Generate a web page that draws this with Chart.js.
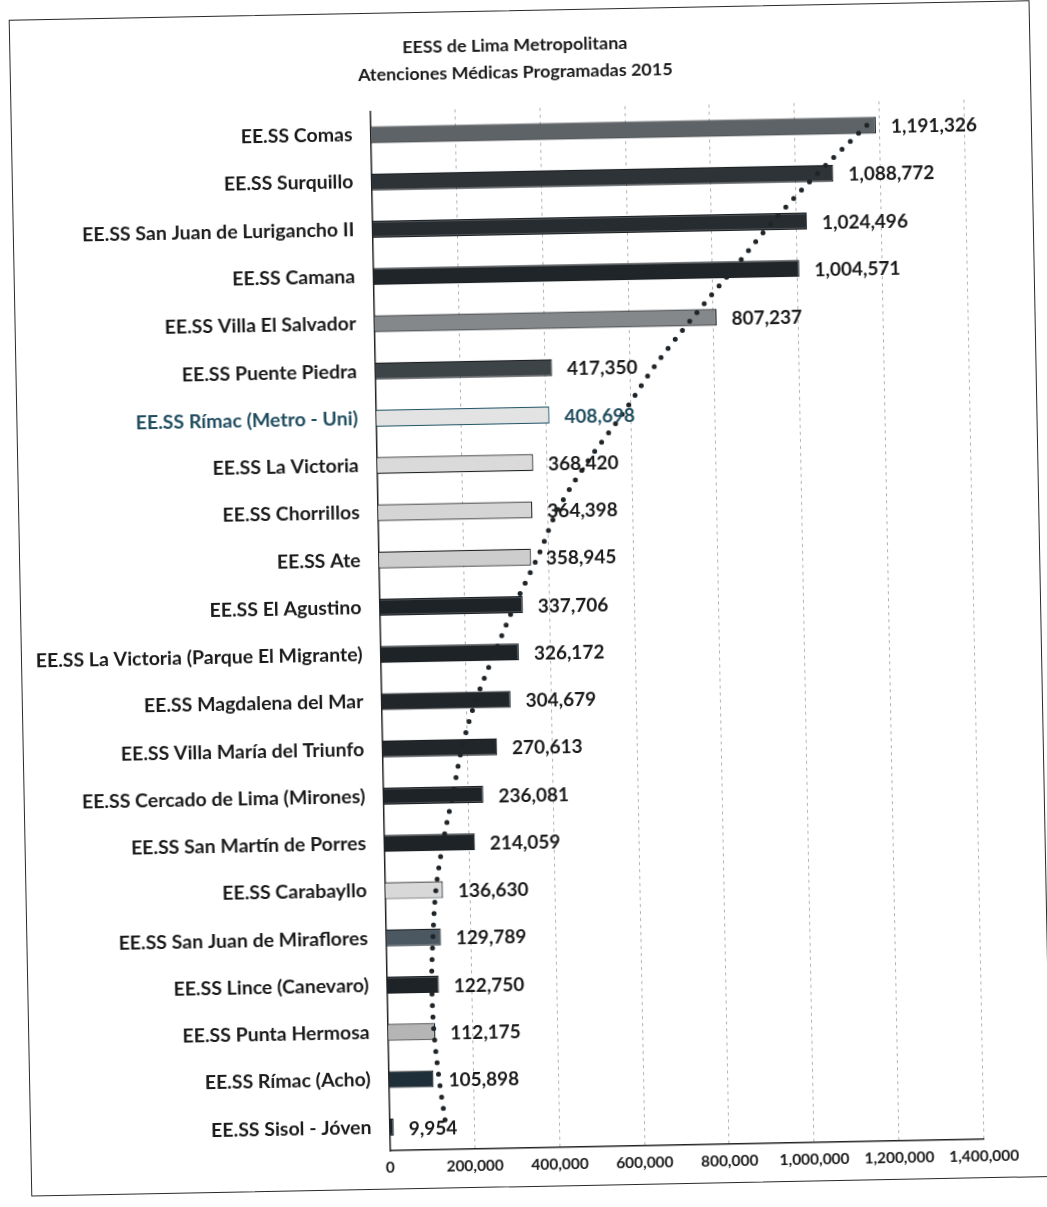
<!DOCTYPE html>
<html>
<head>
<meta charset="utf-8">
<script src="https://cdn.jsdelivr.net/npm/chart.js@4.4.1/dist/chart.umd.min.js"></script>
<style>
  html, body { margin: 0; padding: 0; background: #ffffff; overflow: hidden; }
  #wrap { position: absolute; left: 0; top: 0; width: 1047px; height: 1207px;
          transform: rotate(-1.1deg); transform-origin: 523.5px 603.5px; }
  #frame { position: absolute; left: 20px; top: 10px; width: 1021px; height: 1177px;
           border: 1.6px solid #2a2a2a; box-sizing: border-box; }
  canvas { position: absolute; left: 0; top: 0; }
</style>
</head>
<body>
<div id="wrap">
  <div id="frame"></div>
  <canvas id="chart" width="1047" height="1207"></canvas>
</div>
<script>
// ---------- data ----------
const titleLines = ['EESS de Lima Metropolitana', 'Atenciones Médicas Programadas 2015'];

const categories = [
  'EE.SS Comas',
  'EE.SS Surquillo',
  'EE.SS San Juan de Lurigancho II',
  'EE.SS Camana',
  'EE.SS Villa El Salvador',
  'EE.SS Puente Piedra',
  'EE.SS Rímac (Metro - Uni)',
  'EE.SS La Victoria',
  'EE.SS Chorrillos',
  'EE.SS Ate',
  'EE.SS El Agustino',
  'EE.SS La Victoria (Parque El Migrante)',
  'EE.SS Magdalena del Mar',
  'EE.SS Villa María del Triunfo',
  'EE.SS Cercado de Lima (Mirones)',
  'EE.SS San Martín de Porres',
  'EE.SS Carabayllo',
  'EE.SS San Juan de Miraflores',
  'EE.SS Lince (Canevaro)',
  'EE.SS Punta Hermosa',
  'EE.SS Rímac (Acho)',
  'EE.SS Sisol - Jóven'
];

const attentions = [
  1191326, 1088772, 1024496, 1004571, 807237, 417350, 408698, 368420, 364398, 358945,
  337706, 326172, 304679, 270613, 236081, 214059, 136630, 129789, 122750, 112175,
  105898, 9954
];

// dotted trend line
const trendValues = [
  1170000, 1052000, 944000, 848000, 751000, 660000, 582000, 497000, 425000, 375000,
  319000, 270000, 223000, 188000, 164000, 139000, 120000, 111000, 106000, 109000,
  119000, 133000
];

const xTickValues = [0, 200000, 400000, 600000, 800000, 1000000, 1200000, 1400000];

const barFill = [
  '#5d6367', '#2d3337', '#262c30', '#1f2529', '#85888a', '#3d4447', '#e3e3e3', '#dadada',
  '#d5d5d5', '#cdcdcd', '#1d2327', '#1d2327', '#20262a', '#20262a', '#1d2327', '#1d2327',
  '#d8d8d8', '#4b5862', '#1d2327', '#b5b5b5', '#1f2f3a', '#1d2327'
];

// ---------- styling helpers ----------
const FONT = 'Lato';
const TEXT = '#1a1a1a';
const TEAL = '#1f4c5e';
const fmt = v => Number(v).toLocaleString('en-US');

function build() {
  const mctx = document.createElement('canvas').getContext('2d');
  function fit(text, target) {
    mctx.font = 'bold 100px ' + FONT;
    return 100 * target / mctx.measureText(text).width;
  }
  const catSize = fit('EE.SS La Victoria (Parque El Migrante)', 327);
  const valSize = fit('1,191,326', 86);
  const tickSize = fit('1,000,000', 70);
  const titleSize = fit(titleLines[1], 315);

  const barBorder = categories.map((c, i) => i === 6 ? '#235668' : '#1c1f22');

  const valueLabels = {
    id: 'valueLabels',
    afterDatasetsDraw(chart) {
      const meta = chart.getDatasetMeta(1);
      const ctx = chart.ctx;
      ctx.save();
      ctx.font = 'bold ' + valSize + 'px ' + FONT;
      ctx.textBaseline = 'middle';
      ctx.textAlign = 'left';
      meta.data.forEach((bar, i) => {
        ctx.fillStyle = i === 6 ? TEAL : TEXT;
        ctx.fillText(fmt(attentions[i]), bar.x + 15, bar.y + 2);
      });
      ctx.restore();
    }
  };

  const chartTitle = {
    id: 'chartTitle',
    afterDraw(chart) {
      const ctx = chart.ctx;
      ctx.save();
      ctx.font = 'bold ' + titleSize + 'px ' + FONT;
      ctx.fillStyle = TEXT;
      ctx.textAlign = 'center';
      ctx.textBaseline = 'middle';
      titleLines.forEach((t, i) => ctx.fillText(t, 525.5, 45 + i * 27));
      ctx.restore();
    }
  };

  new Chart(document.getElementById('chart'), {
    type: 'bar',
    data: {
      labels: categories,
      datasets: [
        {
          type: 'line',
          indexAxis: 'y',
          data: trendValues,
          borderColor: '#1e2428',
          borderWidth: 5,
          borderDash: [0, 11.5],
          borderCapStyle: 'round',
          pointRadius: 0,
          fill: false,
          cubicInterpolationMode: 'monotone',
          order: 0
        },
        {
          type: 'bar',
          data: attentions,
          backgroundColor: barFill,
          borderColor: barBorder,
          borderWidth: 1.2,
          barPercentage: 0.36,
          categoryPercentage: 1,
          order: 1
        }
      ]
    },
    options: {
      indexAxis: 'y',
      responsive: false,
      animation: false,
      devicePixelRatio: 1,
      layout: { padding: { left: 10, right: 73.5, top: 108.3, bottom: 20 } },
      plugins: {
        legend: { display: false },
        tooltip: { enabled: false },
        title: { display: false }
      },
      scales: {
        x: {
          type: 'linear',
          min: 0,
          max: 1400000,
          afterBuildTicks: s => { s.ticks = xTickValues.map(v => ({ value: v })); },
          afterFit: s => { s.height = 39; },
          ticks: {
            callback: v => fmt(v),
            font: { family: FONT, weight: 'bold', size: tickSize },
            color: TEXT,
            padding: 8,
            maxRotation: 0,
            autoSkip: false
          },
          grid: {
            color: c => c.index === 0 ? 'rgba(0,0,0,0)' : 'rgba(110,110,110,0.55)',
            lineWidth: 1,
            drawTicks: false
          },
          border: { display: true, color: '#222222', width: 1.5, dash: [3, 4] }
        },
        y: {
          type: 'category',
          afterFit: s => { s.width = 379.5 - 10; },
          ticks: {
            font: { family: FONT, weight: 'bold', size: catSize },
            color: c => c.index === 6 ? TEAL : TEXT,
            padding: 18,
            autoSkip: false
          },
          grid: { display: false, drawTicks: false },
          border: { display: true, color: '#222222', width: 1.5 }
        }
      }
    },
    plugins: [valueLabels, chartTitle]
  });
}

if (document.fonts && document.fonts.load) {
  document.fonts.load('bold 20px Lato').then(build, build);
} else {
  build();
}
</script>
</body>
</html>
